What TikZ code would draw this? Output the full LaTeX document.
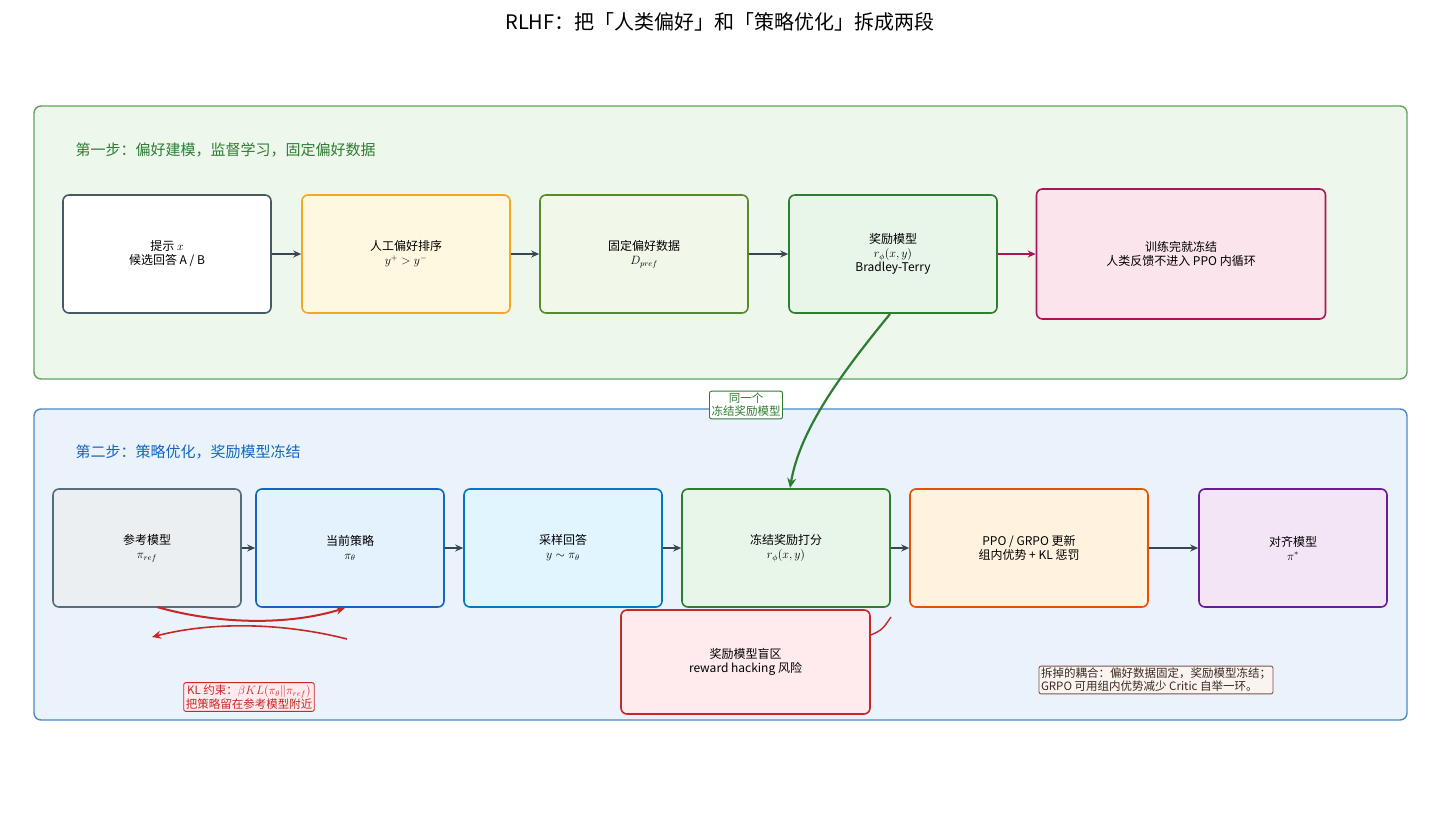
\documentclass[tikz,border=0pt]{standalone}
\usepackage{fontspec}
\setmainfont{Noto Sans CJK SC}
\usetikzlibrary{arrows.meta}
\definecolor{gpanel}{HTML}{EDF7EC}\definecolor{gpanelD}{HTML}{5FA35F}
\definecolor{bpanel}{HTML}{EAF3FC}\definecolor{bpanelD}{HTML}{4A88C8}
\tikzset{
 box/.style={draw,rounded corners=6pt,line width=1.6pt,align=center,font=\fontsize{12}{14}\selectfont,inner sep=0pt},
 arr/.style={-{Stealth[length=8pt,width=7pt]},line width=2pt,draw={rgb,255:red,55;green,71;blue,79}},
 lab/.style={draw,rounded corners=2pt,line width=0.9pt,align=center,font=\fontsize{11.5}{13}\selectfont,inner sep=2pt,fill=white},
}
\begin{document}
\begin{tikzpicture}[x=1pt,y=-1pt]
\useasboundingbox (0,0) rectangle (1440,819);
\node[font=\fontsize{20}{24}\selectfont] (title) at (720,22) {RLHF：把「人类偏好」和「策略优化」拆成两段};
\draw[gpanelD,fill=gpanel,line width=1.4pt,rounded corners=7pt] (34,106) rectangle (1407,379);
\draw[bpanelD,fill=bpanel,line width=1.4pt,rounded corners=7pt] (34,409) rectangle (1407,720);
\node[anchor=west,text={rgb,255:red,46;green,125;blue,50},font=\fontsize{15}{18}\selectfont] (s1) at (72,150) {第一步：偏好建模，监督学习，固定偏好数据};
\node[anchor=west,text={rgb,255:red,21;green,101;blue,192},font=\fontsize{15}{18}\selectfont] (s2) at (72,452) {第二步：策略优化，奖励模型冻结};
% top row
\node[box,draw={rgb,255:red,69;green,90;blue,100},fill=white,minimum width=208pt,minimum height=118pt] (a) at (167,254) {提示 $x$\\候选回答 A / B};
\node[box,draw={rgb,255:red,245;green,166;blue,35},fill={rgb,255:red,255;green,248;blue,225},minimum width=208pt,minimum height=118pt] (b) at (406,254) {人工偏好排序\\$y^+ > y^-$};
\node[box,draw={rgb,255:red,85;green,139;blue,47},fill={rgb,255:red,241;green,248;blue,233},minimum width=208pt,minimum height=118pt] (c) at (644,254) {固定偏好数据\\$D_{pref}$};
\node[box,draw={rgb,255:red,46;green,125;blue,50},fill={rgb,255:red,232;green,245;blue,233},minimum width=208pt,minimum height=118pt] (d) at (893,254) {奖励模型\\$r_\phi(x,y)$\\Bradley-Terry};
\node[box,draw={rgb,255:red,173;green,20;blue,87},fill={rgb,255:red,252;green,228;blue,236},minimum width=289pt,minimum height=130pt] (e) at (1181,254) {训练完就冻结\\人类反馈不进入 PPO 内循环};
\draw[arr] (a) -- (b); \draw[arr] (b) -- (c); \draw[arr] (c) -- (d);
\draw[arr,draw={rgb,255:red,173;green,20;blue,87}] (d) -- (e);
% bottom row
\node[box,draw={rgb,255:red,84;green,110;blue,122},fill={rgb,255:red,236;green,239;blue,241},minimum width=188pt,minimum height=118pt] (f) at (147,548) {参考模型\\$\pi_{ref}$};
\node[box,draw={rgb,255:red,21;green,101;blue,192},fill={rgb,255:red,227;green,242;blue,253},minimum width=188pt,minimum height=118pt] (g) at (350,548) {当前策略\\$\pi_\theta$};
\node[box,draw={rgb,255:red,2;green,119;blue,189},fill={rgb,255:red,225;green,245;blue,254},minimum width=198pt,minimum height=118pt] (h) at (563,548) {采样回答\\$y\sim\pi_\theta$};
\node[box,draw={rgb,255:red,46;green,125;blue,50},fill={rgb,255:red,232;green,245;blue,233},minimum width=208pt,minimum height=118pt] (i) at (786,548) {冻结奖励打分\\$r_\phi(x,y)$};
\node[box,draw={rgb,255:red,230;green,81;blue,0},fill={rgb,255:red,255;green,243;blue,224},minimum width=238pt,minimum height=118pt] (j) at (1029,548) {PPO / GRPO 更新\\组内优势 + KL 惩罚};
\node[box,draw={rgb,255:red,106;green,27;blue,154},fill={rgb,255:red,243;green,229;blue,245},minimum width=188pt,minimum height=118pt] (k) at (1293,548) {对齐模型\\$\pi^*$};
\node[box,draw={rgb,255:red,198;green,40;blue,40},fill={rgb,255:red,255;green,235;blue,238},minimum width=249pt,minimum height=104pt] (m) at (745.5,662) {奖励模型盲区\\reward hacking 风险};
\draw[arr] (f) -- (g); \draw[arr] (g) -- (h); \draw[arr] (h) -- (i); \draw[arr] (i) -- (j); \draw[arr] (j) -- (k);
% reward model to frozen scoring
\coordinate (d1) at (890,314); \coordinate (i1) at (790,488);
\draw[-{Stealth[length=10pt,width=9pt]},line width=2.2pt,draw={rgb,255:red,46;green,125;blue,50}] (d1) .. controls (840,375) and (800,430) .. (i1);
\node[lab,draw={rgb,255:red,46;green,125;blue,50},text={rgb,255:red,46;green,125;blue,50}] (same) at (746,405) {同一个\\冻结奖励模型};
% KL arcs
\coordinate (k1) at (157,607); \coordinate (k2) at (345,608);
\coordinate (k3) at (347,639); \coordinate (k4) at (152,637);
\draw[-{Stealth[length=9pt,width=8pt]},line width=2pt,draw={rgb,255:red,198;green,40;blue,40}] (k1) .. controls (220,625) and (290,625) .. (k2);
\draw[-{Stealth[length=9pt,width=8pt]},line width=1.6pt,draw={rgb,255:red,198;green,40;blue,40}] (k3) .. controls (280,622) and (210,622) .. (k4);
\node[lab,draw={rgb,255:red,198;green,40;blue,40},text={rgb,255:red,198;green,40;blue,40},fill={rgb,255:red,255;green,235;blue,238}] (kl) at (249,697) {KL 约束：$\beta KL(\pi_\theta\|\pi_{ref})$\\把策略留在参考模型附近};
\coordinate (r1) at (891,617);
\draw[line width=1.4pt,draw={rgb,255:red,198;green,40;blue,40}] (m.east|-0,635) .. controls (882,630) .. (r1);
\node[lab,draw={rgb,255:red,121;green,85;blue,72},fill={rgb,255:red,250;green,244;blue,240},text={rgb,255:red,60;green,40;blue,30},align=left] (note) at (1156,680) {拆掉的耦合：偏好数据固定，奖励模型冻结；\\GRPO 可用组内优势减少 Critic 自举一环。};
\end{tikzpicture}
\end{document}
